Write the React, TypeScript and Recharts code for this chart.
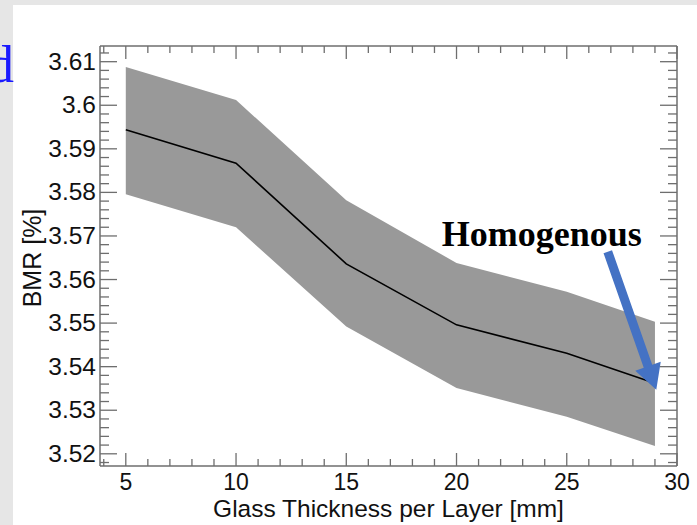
import React from 'react';
import {
  ComposedChart,
  Area,
  Line,
  XAxis,
  YAxis,
  ReferenceLine
} from 'recharts';

const thickness = [5, 10, 15, 20, 25, 29];
const bmrMean = [3.5944, 3.5867, 3.5636, 3.5496, 3.5431, 3.5362];
const bmrUpper = [3.6088, 3.6012, 3.5782, 3.5638, 3.5572, 3.5503];
const bmrLower = [3.5796, 3.572, 3.5492, 3.5351, 3.5285, 3.5218];

const xMajorTicks = [5, 10, 15, 20, 25, 30];
const yMajorTicks = [3.52, 3.53, 3.54, 3.55, 3.56, 3.57, 3.58, 3.59, 3.6, 3.61];

const annotationText = 'Homogenous';
const arrowFrom = { x: 26.86, y: 3.5664 };
const arrowTo = { x: 29.06, y: 3.5347 };

const chartData = thickness.map((t, i) => ({
  t,
  mean: bmrMean[i],
  band: [bmrLower[i], bmrUpper[i]]
}));

// every 1 mm on x, every 0.002 on y (minor ticks included)
const xTicks: number[] = [];
for (let v = 4; v <= 30; v++) xTicks.push(v);
const yTicks: number[] = [];
for (let k = 1759; k <= 1806; k++) yTicks.push(Number((k * 0.002).toFixed(3)));

const isMajorY = (v: number) => yMajorTicks.some(m => Math.abs(m - v) < 1e-6);

const axisColor = '#6e6e6e';
const sansFont = '"Liberation Sans", Arial, sans-serif';

const makeXTick = (side: 'top' | 'bottom') => (props: any) => {
  const { x, y, payload } = props;
  const major = xMajorTicks.includes(payload.value);
  const len = major ? 13 : 7;
  const dir = side === 'bottom' ? -1 : 1;
  return (
    <g>
      <line x1={x} x2={x} y1={y} y2={y + dir * len} stroke={axisColor} strokeWidth={1.3} />
      {side === 'bottom' && major && (
        <text x={x} y={y + 24} textAnchor="middle" fontSize={23} fontFamily={sansFont} fill="#111">
          {payload.value}
        </text>
      )}
    </g>
  );
};

const makeYTick = (side: 'left' | 'right') => (props: any) => {
  const { x, y, payload } = props;
  const major = isMajorY(payload.value);
  const len = major ? 17 : 9;
  const dir = side === 'left' ? 1 : -1;
  return (
    <g>
      <line x1={x} x2={x + dir * len} y1={y} y2={y} stroke={axisColor} strokeWidth={1.3} />
      {side === 'left' && major && (
        <text x={x - 4} y={y + 8} textAnchor="end" fontSize={24.5} fontFamily={sansFont} fill="#111">
          {parseFloat(payload.value.toFixed(2)).toString()}
        </text>
      )}
    </g>
  );
};

const ArrowShape = (props: any) => {
  const { x1, y1, x2, y2 } = props;
  if ([x1, y1, x2, y2].some(v => typeof v !== 'number')) return null;
  const dx = x2 - x1;
  const dy = y2 - y1;
  const len = Math.sqrt(dx * dx + dy * dy);
  const ux = dx / len;
  const uy = dy / len;
  const nx = -uy;
  const ny = ux;
  const headLen = 25;
  const bx = x2 - ux * headLen;
  const by = y2 - uy * headLen;
  const sw = 4.5;
  const hw = 13.5;
  const pts = [
    [x1 + nx * sw, y1 + ny * sw],
    [bx + nx * sw, by + ny * sw],
    [bx + nx * hw, by + ny * hw],
    [x2, y2],
    [bx - nx * hw, by - ny * hw],
    [bx - nx * sw, by - ny * sw],
    [x1 - nx * sw, y1 - ny * sw]
  ]
    .map(p => p.join(','))
    .join(' ');
  return (
    <g>
      <text
        x={x1 - 66}
        y={y1 - 6}
        textAnchor="middle"
        fontSize={36}
        fontWeight="bold"
        fontFamily='"Liberation Serif", "Times New Roman", serif'
        fill="#000"
      >
        {annotationText}
      </text>
      <polygon points={pts} fill="#4472C4" />
    </g>
  );
};

export default function App() {
  return (
    <div
      style={{
        position: 'absolute',
        left: 0,
        top: 0,
        width: 697,
        height: 525,
        background: '#e6e6e6',
        overflow: 'hidden'
      }}
    >
      <div style={{ position: 'absolute', left: 13, top: 5, right: 0, bottom: 0, background: '#fff' }} />
      <svg width={697} height={525} style={{ position: 'absolute', left: 0, top: 0 }}>
        <text
          x={14}
          y={81.5}
          textAnchor="end"
          fontSize={53}
          fontFamily='"Liberation Serif", "Times New Roman", serif'
          fill="#1a1aff"
        >
          d
        </text>
      </svg>
      <div style={{ position: 'absolute', left: 0, top: 0 }}>
        <ComposedChart
          width={697}
          height={525}
          data={chartData}
          margin={{ top: 45, right: 19, bottom: 0, left: 40 }}
        >
          <XAxis
            xAxisId="bottom"
            dataKey="t"
            type="number"
            domain={[3.83, 30]}
            allowDataOverflow
            ticks={xTicks}
            interval={0}
            height={59}
            tickSize={0}
            tickMargin={0}
            tickLine={false}
            tick={makeXTick('bottom')}
            axisLine={{ stroke: axisColor, strokeWidth: 1.5 }}
            label={{
              content: (p: any) => (
                <text
                  x={p.viewBox.x + p.viewBox.width / 2}
                  y={p.viewBox.y + 51}
                  textAnchor="middle"
                  fontSize={24.5}
                  fontFamily={sansFont}
                  fill="#111"
                >
                  Glass Thickness per Layer [mm]
                </text>
              )
            }}
          />
          <XAxis
            xAxisId="top"
            orientation="top"
            dataKey="t"
            type="number"
            domain={[3.83, 30]}
            allowDataOverflow
            ticks={xTicks}
            interval={0}
            height={1}
            tickSize={0}
            tickMargin={0}
            tickLine={false}
            tick={makeXTick('top')}
            axisLine={{ stroke: axisColor, strokeWidth: 1.5 }}
          />
          <YAxis
            yAxisId="left"
            type="number"
            domain={[3.5172, 3.6136]}
            allowDataOverflow
            ticks={yTicks}
            interval={0}
            width={60}
            tickSize={0}
            tickMargin={0}
            tickLine={false}
            tick={makeYTick('left')}
            axisLine={{ stroke: axisColor, strokeWidth: 1.5 }}
            label={{
              content: (p: any) => {
                const cx = p.viewBox.x + p.viewBox.width - 59;
                const cy = p.viewBox.y + p.viewBox.height / 2 + 2;
                return (
                  <text
                    x={cx}
                    y={cy}
                    transform={`rotate(-90, ${cx}, ${cy})`}
                    textAnchor="middle"
                    fontSize={25}
                    fontFamily={sansFont}
                    fill="#111"
                  >
                    BMR [%]
                  </text>
                );
              }
            }}
          />
          <YAxis
            yAxisId="right"
            orientation="right"
            type="number"
            domain={[3.5172, 3.6136]}
            allowDataOverflow
            ticks={yTicks}
            interval={0}
            width={1}
            tickSize={0}
            tickMargin={0}
            tickLine={false}
            tick={makeYTick('right')}
            axisLine={{ stroke: axisColor, strokeWidth: 1.5 }}
          />
          <Area
            xAxisId="bottom"
            yAxisId="left"
            type="linear"
            dataKey="band"
            fill="#999999"
            fillOpacity={1}
            stroke="none"
            isAnimationActive={false}
          />
          <Line
            xAxisId="bottom"
            yAxisId="left"
            type="linear"
            dataKey="mean"
            stroke="#000"
            strokeWidth={1.6}
            dot={false}
            isAnimationActive={false}
          />
          <ReferenceLine
            xAxisId="bottom"
            yAxisId="left"
            segment={[arrowFrom, arrowTo]}
            ifOverflow="visible"
            shape={ArrowShape}
          />
        </ComposedChart>
      </div>
    </div>
  );
}
